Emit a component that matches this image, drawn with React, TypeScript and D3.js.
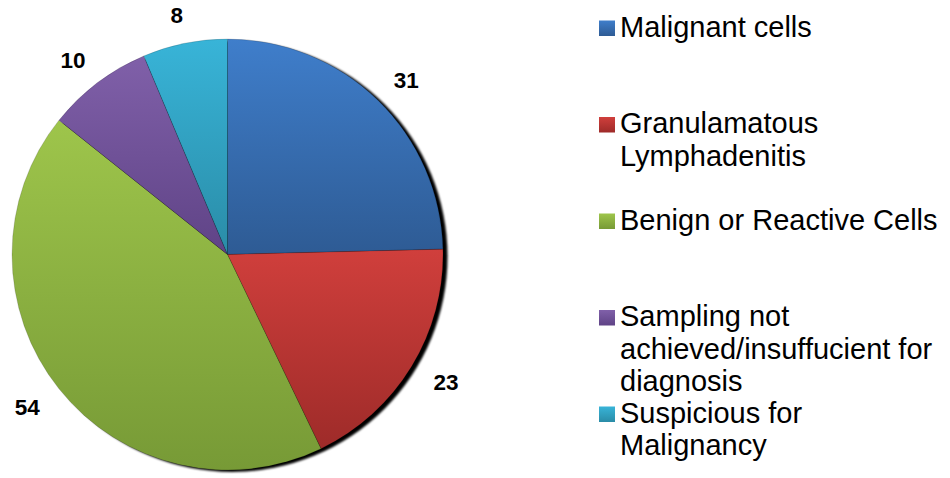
import React from "react";
import * as d3 from "d3";

const categories = [
  "Malignant cells",
  "Granulamatous Lymphadenitis",
  "Benign or Reactive Cells",
  "Sampling not achieved/insuffucient for diagnosis",
  "Suspicious for Malignancy",
];
const values = [31, 23, 54, 10, 8];
const legendLines = [
  ["Malignant cells"],
  ["Granulamatous", "Lymphadenitis"],
  ["Benign or Reactive Cells"],
  ["Sampling not", "achieved/insuffucient for", "diagnosis"],
  ["Suspicious for", "Malignancy"],
];
const topColors = ["#3f7ecb", "#d03f3c", "#9ec54b", "#8060a9", "#38b4d8"];
const bottomColors = ["#2e5b94", "#9e2b29", "#779a36", "#5f4386", "#2a8ca7"];

const W = 950;
const H = 478;
const cx = 227.5;
const cy = 254.5;
const R = 215.5;

const App = () => {
  const pie = d3
    .pie<number>()
    .value((d) => d)
    .sort(null);
  const arcs = pie(values);
  const arc = d3.arc<d3.PieArcDatum<number>>().innerRadius(0).outerRadius(R);
  // unit arc -> direction of each slice's middle, labels sit on a slightly flattened ring
  const unitArc = d3.arc<d3.PieArcDatum<number>>().innerRadius(1).outerRadius(1);
  const labelRx = 256;
  const labelRy = 244;

  const font = "'Liberation Sans', Arial, sans-serif";
  const legendX = 599;
  const legendY = d3.scaleLinear().domain([0, 4]).range([28, 414]);

  return (
    <svg width={W} height={H} style={{ position: "absolute", left: 0, top: 0 }}>
      <defs>
        {topColors.map((c, i) => (
          <linearGradient key={i} id={`g${i}`} x1="0" y1="0" x2="0" y2="1">
            <stop offset="0%" stopColor={c} />
            <stop offset="100%" stopColor={bottomColors[i]} />
          </linearGradient>
        ))}
        <filter id="blur" x="-10%" y="-10%" width="120%" height="120%">
          <feGaussianBlur stdDeviation="1.2" />
        </filter>
      </defs>
      <rect width={W} height={H} fill="#fff" />
      <circle cx={cx + 4.5} cy={cy + 2} r={R} fill="#000" filter="url(#blur)" />
      <g transform={`translate(${cx},${cy})`}>
        {arcs.map((a, i) => (
          <path
            key={categories[i]}
            d={arc(a) || ""}
            fill={`url(#g${i})`}
            stroke="rgba(0,0,0,0.25)"
            strokeWidth={0.6}
          />
        ))}
        {arcs.map((a, i) => {
          const [ux, uy] = unitArc.centroid(a);
          return (
            <text
              key={i}
              x={ux * labelRx}
              y={uy * labelRy}
              dy="0.36em"
              textAnchor="middle"
              fontFamily={font}
              fontWeight="bold"
              fontSize={22.5}
              fill="#000"
            >
              {values[i]}
            </text>
          );
        })}
      </g>
      <g>
        {legendLines.map((lines, i) => {
          const y0 = legendY(i);
          return (
            <g key={i}>
              <rect
                x={legendX}
                y={y0 - 7.5}
                width={16}
                height={15.5}
                fill={`url(#g${i})`}
              />
              {lines.map((t, j) => (
                <text
                  key={j}
                  x={620}
                  y={y0 + 8.8 + j * 32.5}
                  fontFamily={font}
                  fontSize={29}
                  fill="#000"
                >
                  {t}
                </text>
              ))}
            </g>
          );
        })}
      </g>
    </svg>
  );
};

export default App;
